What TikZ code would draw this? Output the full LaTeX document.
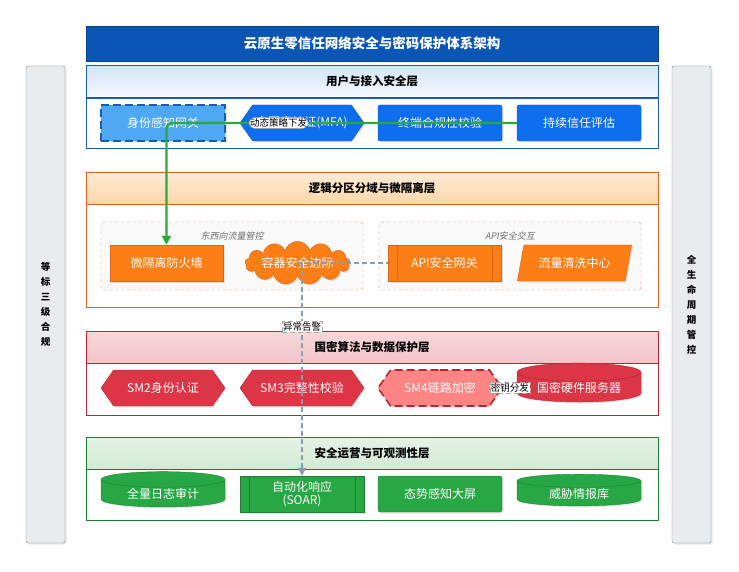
\documentclass[tikz,border=0pt]{standalone}
\usepackage{fontspec}
\setmainfont{Noto Sans CJK SC}[AutoFakeSlant=0.2]
\usetikzlibrary{shapes.geometric,shapes.symbols,shadows,arrows.meta}
\definecolor{titleblue}{HTML}{0A55B5}
\definecolor{titleline}{HTML}{08408A}
\definecolor{userblue}{HTML}{0D6EF0}
\definecolor{userlight}{HTML}{4FA8F4}
\definecolor{userline}{HTML}{1A5CB0}
\definecolor{zoneor}{HTML}{FD7E14}
\definecolor{zoneline}{HTML}{D9641E}
\definecolor{cryptred}{HTML}{DC3545}
\definecolor{cryptline}{HTML}{B52533}
\definecolor{cryptlight}{HTML}{FF8585}
\definecolor{opsgreen}{HTML}{28A745}
\definecolor{opsline}{HTML}{1E7E34}
\definecolor{sidegray}{HTML}{E9ECEF}
\definecolor{sideline}{HTML}{7D8287}
\definecolor{flowgreen}{HTML}{2DA83D}
\definecolor{alarmgray}{HTML}{8A9BB2}
\begin{document}
\begin{tikzpicture}[x=1pt,y=-1pt,
  every node/.style={font=\fontsize{12}{13.5}\selectfont},
  shade/.style={drop shadow={opacity=0.18,shadow xshift=1.5pt,shadow yshift=-1.5pt}},
  box/.style={shade,text=white,minimum width=124pt,minimum height=36pt,inner sep=1pt,align=center},
  layerhead/.style={minimum width=572pt,minimum height=32pt,inner sep=0pt,font=\fontsize{11.5}{13}\selectfont\bfseries},
  sidebar/.style={draw=sideline,fill=sidegray,rounded corners=2pt,shade,minimum width=39pt,minimum height=477pt,align=center,font=\fontsize{9.5}{15}\selectfont\bfseries},
  zone/.style={draw=zoneline!85,dashed,fill=blue!2!gray!4,rounded corners=3pt},
  zonelabel/.style={text=gray!85!black,font=\fontsize{9}{10}\selectfont\itshape},
  hexa/.style={signal,signal to=west and east,signal pointer angle=110},
  procbox/.style={path picture={
    \draw[#1] ([xshift=9pt]path picture bounding box.south west) -- ([xshift=9pt]path picture bounding box.north west);
    \draw[#1] ([xshift=-9pt]path picture bounding box.south east) -- ([xshift=-9pt]path picture bounding box.north east);}},
  drum/.style={cylinder,shape border rotate=90,aspect=0.21,minimum height=30pt},
  tag/.style={fill=white,draw=gray!70,line width=0.4pt,inner sep=1pt,text=black,font=\fontsize{9.5}{11}\selectfont},
  flowline/.style={draw=flowgreen,line width=2.4pt,rounded corners=6pt,-{Triangle[length=9pt,width=9pt]}},
  alarmline/.style={draw=alarmgray,line width=1.3pt,dash pattern=on 5pt off 3pt}]
\useasboundingbox[fill=white] (0,0) rectangle (739,572);

% side bars
\node[sidebar] (grade) at (45.5,304.5) {等\\标\\三\\级\\合\\规};
\node[sidebar] (life) at (691.5,304.5) {全\\生\\命\\周\\期\\管\\控};

% title
\node[draw=titleline,fill=titleblue,text=white,minimum width=572pt,minimum height=35pt,
  font=\fontsize{13.5}{15}\selectfont\bfseries] (title) at (372,43.5) {云原生零信任网络安全与密码保护体系架构};

% layer 1
\draw[userline,fill=white] (86,98) rectangle (658,148);
\node[layerhead,draw=userline,top color={rgb,255:red,213;green,229;blue,248},bottom color={rgb,255:red,244;green,248;blue,253}] (l1) at (372,81.5) {用户与接入安全层};
\node[box,draw=userline,line width=1.6pt,dash pattern=on 8pt off 4pt,fill=userlight] (idgw) at (163,123) {身份感知网关};
\node[box,hexa,draw=userline,fill=userblue] (mfa) at (302,123) {多因素认证(MFA)};
\node[box,rounded corners=2pt,draw=userline,fill=userblue] (term) at (440,123) {终端合规性校验};
\node[box,rounded corners=2pt,draw=userline,fill=userblue] (trust) at (579,123) {持续信任评估};

% layer 2
\draw[zoneline,fill=white] (86,204) rectangle (658,307);
\node[layerhead,draw=zoneline,top color={rgb,255:red,254;green,236;blue,214},bottom color={rgb,255:red,251;green,214;blue,170}] (l2) at (372,188) {逻辑分区分域与微隔离层};
\draw[zone] (101,222) rectangle (363,290);
\node[zonelabel] (eastwest) at (232,236) {东西向流量管控};
\draw[zone] (379,222) rectangle (641,290);
\node[zonelabel] (apizone) at (510,236) {API安全交互};
\node[box,draw=zoneline,fill=zoneor,minimum width=113pt] (fw) at (166.5,263) {微隔离防火墙};
\node[cloud,cloud puffs=13,aspect=4,shade,draw=zoneline,fill=zoneor,text=white,inner sep=0pt,
  minimum width=105pt,minimum height=28pt] (cloud) at (297.5,263) {容器安全边际};
\node[box,procbox={zoneline},draw=zoneline,fill=zoneor,minimum width=113pt] (api) at (444.5,263) {API安全网关};
\node[box,trapezium,trapezium left angle=70,trapezium right angle=110,trapezium stretches=true,
  draw=zoneline,fill=zoneor,minimum width=115pt] (wash) at (574.5,263) {流量清洗中心};

% layer 3
\draw[cryptline,fill=white] (86,363) rectangle (658,415);
\node[layerhead,draw=cryptline,top color={rgb,255:red,248;green,215;blue,218},bottom color={rgb,255:red,242;green,196;blue,201}] (l3) at (372,347.5) {国密算法与数据保护层};
\node[box,hexa,draw=cryptline,fill=cryptred] (sm2) at (163,388) {SM2身份认证};
\node[box,hexa,draw=cryptline,fill=cryptred] (sm3) at (302,388) {SM3完整性校验};
\node[box,hexa,draw=cryptline,line width=1.6pt,dash pattern=on 8pt off 4pt,fill=cryptlight] (sm4) at (440,388) {SM4链路加密};
\node[box,drum,draw=cryptline,fill=cryptred] (hsm) at (579,388) {国密硬件服务器};

% layer 4
\draw[opsline,fill=white] (86,469) rectangle (658,520);
\node[layerhead,draw=opsline,top color={rgb,255:red,228;green,243;blue,229},bottom color={rgb,255:red,210;green,233;blue,212}] (l4) at (372,453.5) {安全运营与可观测性层};
\node[box,drum,draw=opsline,fill=opsgreen] (log) at (163,494) {全量日志审计};
\node[box,procbox={opsline},draw=opsline,fill=opsgreen] (soar) at (302,494) {自动化响应\\(SOAR)};
\node[box,rounded corners=2pt,draw=opsline,fill=opsgreen] (screen) at (440,494) {态势感知大屏};
\node[box,drum,draw=opsline,fill=opsgreen] (intel) at (579,494) {威胁情报库};

% connectors
\draw[alarmline] (cloud.center) -- (api.west);
\draw[alarmline,-{Triangle[length=8pt,width=8pt]}] (cloud.center -| soar.north) -- (soar.north)
  node[pos=0.3,tag] {异常告警};
\draw[alarmline] (sm4) -- (hsm) node[midway,tag] {密钥分发};
\draw[flowline] (trust.west) -| (fw.north) node[pos=0.34,tag] {动态策略下发};
\end{tikzpicture}
\end{document}
